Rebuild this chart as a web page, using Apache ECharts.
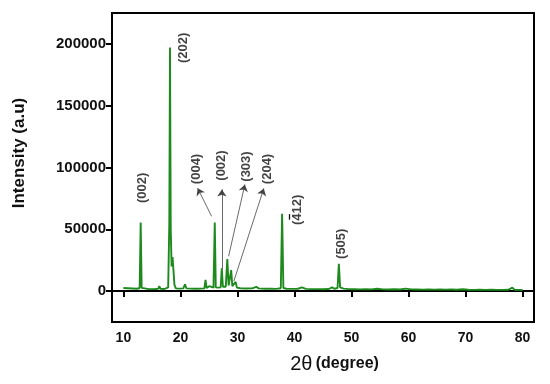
<!DOCTYPE html>
<html><head><meta charset="utf-8">
<script src="https://cdn.jsdelivr.net/npm/echarts@6/dist/echarts.min.js"></script>
<style>html,body{margin:0;padding:0;background:#fff}#c{width:550px;height:384px}</style>
</head><body><div id="c"></div>
<script>
var twoTheta = [10.0,10.8,11.6,12.4,12.85,13.03,13.2,13.5,14.5,15.5,16.1,16.3,16.5,17.2,17.85,18.05,18.17,18.3,18.45,18.62,18.78,18.95,19.2,19.8,20.5,20.8,21.05,21.8,22.8,23.6,24.2,24.4,24.6,24.9,25.05,25.2,25.8,26.02,26.2,26.6,27.05,27.25,27.45,27.95,28.22,28.45,28.7,28.9,29.1,29.45,29.68,29.9,30.5,31.5,32.6,33.3,33.7,34.8,35.9,36.8,37.6,37.83,38.05,38.6,39.6,40.6,41.3,42.0,43.0,44.0,45.0,46.0,46.6,47.0,47.55,47.78,48.0,48.3,48.6,49.5,50.5,51.5,52.5,53.5,54.5,55.5,56.5,57.5,58.5,59.5,60.5,61.5,62.5,63.5,64.5,65.5,66.5,67.5,68.5,69.5,70.5,71.5,72.5,73.5,74.5,75.5,76.5,77.5,78.2,78.6,79.3,80.0];
var intensity = [2500,2300,2100,1900,2500,55500,2600,1800,1600,1700,1800,4000,1800,1700,3000,55000,197000,50000,20000,27500,26000,5000,2200,2000,2200,5500,2200,2000,1900,2000,2200,9000,2500,2600,4000,2600,2800,55500,3000,2800,3000,18500,3500,3500,26000,4500,3800,17000,4000,3000,7500,2800,2300,2100,2200,3500,2200,1900,1900,1800,2300,62500,2500,1900,1800,1900,3000,1800,1600,1600,1500,1700,3000,1900,2500,22000,3000,3800,2000,1600,1500,1400,1500,1400,1900,1400,1300,1500,1300,2000,1400,1300,1200,1300,1200,1400,1200,1300,1100,1500,1100,1000,1100,1000,1100,1000,1000,1100,2800,1000,1000,900];
var xTicks = [10,20,30,40,50,60,70,80];
var yTicks = [0,50000,100000,150000,200000];
var peakLabels = ['(002)','(202)','(004)','(002)','(303)','(204)','(412)','(505)'];
var peakLabelX = [13.4,20.45,22.85,27.2,31.65,35.3,40.55,48.2];
var peakLabelY = [83500,196800,98800,101600,100800,98800,65700,38300];
var arrowFromX = [25.47,27.27,28.45,29.37];
var arrowFromY = [60500,17700,28200,8100];
var arrowToX = [23.02,27.27,31.3,34.62];
var arrowToY = [83300,82300,86300,83100];
// overbar on the "4" of (-412)
var barX = [39.05,39.05];
var barY = [57800,62300];

var lineData = twoTheta.map(function(x,i){return [x,intensity[i]];});
var labelData = peakLabels.map(function(t,i){return {name:t,value:[peakLabelX[i],peakLabelY[i]]};});
var arrowData = arrowFromX.map(function(x,i){return [{coord:[x,arrowFromY[i]]},{coord:[arrowToX[i],arrowToY[i]]}];});
arrowData.push([{coord:[barX[0],barY[0]],symbol:'none'},{coord:[barX[1],barY[1]],symbol:'none',lineStyle:{color:'#111',width:1.3}}]);

var FONT = 'Liberation Sans, Arial, sans-serif';
var chart = echarts.init(document.getElementById('c'));
chart.setOption({
  animation:false,
  backgroundColor:'#fff',
  grid:{left:112,right:16,top:13,bottom:62,show:true,borderColor:'#000',borderWidth:2,backgroundColor:'transparent'},
  xAxis:{type:'value',min:8,max:82,
    axisLine:{show:true,lineStyle:{color:'#000',width:2}},
    axisTick:{show:true,length:6,lineStyle:{color:'#000',width:2},customValues:xTicks},
    axisLabel:{customValues:xTicks,color:'#111',fontFamily:FONT,fontWeight:'bold',fontSize:14,margin:9,formatter:function(v){return String(v);}},
    splitLine:{show:false},
    name:'{a|2\u03b8} {b|(degree)}',nameLocation:'middle',nameGap:32,
    nameTextStyle:{padding:[0,0,0,23],rich:{a:{fontFamily:FONT,fontSize:20,color:'#111'},b:{fontFamily:FONT,fontSize:16,fontWeight:'bold',color:'#111'}}}
  },
  yAxis:{type:'value',min:-25000,max:225000,
    axisLine:{show:true,lineStyle:{color:'#000',width:2}},
    axisTick:{show:true,length:6,lineStyle:{color:'#000',width:2},customValues:yTicks},
    axisLabel:{customValues:yTicks,color:'#111',fontFamily:FONT,fontWeight:'bold',fontSize:15,margin:6,formatter:function(v){return String(v);}},
    splitLine:{show:false},
    name:'Intensity (a.u)',nameLocation:'middle',nameGap:84,nameRotate:90,
    nameTextStyle:{fontFamily:FONT,fontSize:17,fontWeight:'bold',color:'#111',padding:[0,0,0,29]}
  },
  series:[
    {type:'line',data:lineData,showSymbol:false,symbol:'none',
      lineStyle:{color:'#1e8a1e',width:1.9},
      markLine:{silent:true,symbol:['none','arrow'],symbolSize:7,label:{show:false},
        lineStyle:{color:'#444',width:0.8,type:'solid'},data:arrowData}
    },
    {type:'scatter',data:labelData,symbolSize:0,
      label:{show:true,position:'inside',rotate:90,formatter:'{b}',fontFamily:FONT,fontSize:13,fontWeight:'bold',color:'#111'}
    }
  ]
});
</script></body></html>
